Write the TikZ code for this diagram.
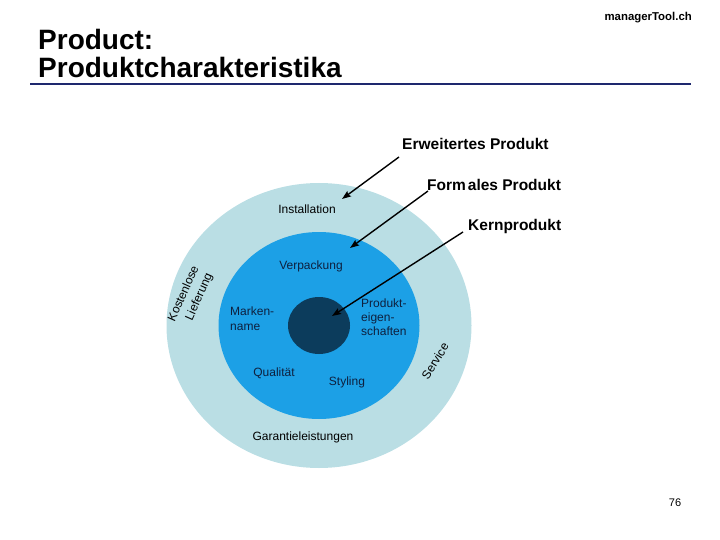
\documentclass[tikz,border=0pt]{standalone}
\usepackage{fontspec}
\setmainfont{Liberation Sans}
\usetikzlibrary{arrows.meta}
\definecolor{ringouter}{RGB}{186,222,228}
\definecolor{ringmid}{RGB}{28,160,230}
\definecolor{ringcore}{RGB}{12,60,92}
\definecolor{rulecol}{RGB}{30,40,110}
\definecolor{innertext}{RGB}{14,32,62}
\tikzset{
  lbl/.style={inner sep=0pt, font=\fontsize{15.5}{18}\selectfont\bfseries},
  small/.style={inner sep=0pt, font=\fontsize{12}{14.5}\selectfont},
  arr/.style={line width=1.4pt, -{Stealth[length=9pt,width=6.5pt,inset=1.5pt]}},
}
\begin{document}
\begin{tikzpicture}[x=1pt,y=-1pt]
\useasboundingbox (0,0) rectangle (720,540);
% header
\node[inner sep=0pt, anchor=east, font=\fontsize{11.4}{13}\selectfont\bfseries] (site) at (692,18) {managerTool.ch};
\node[inner sep=0pt, anchor=base west, font=\fontsize{28}{28}\selectfont\bfseries] (t1) at (38,50) {Product:};
\node[inner sep=0pt, anchor=base west, font=\fontsize{28}{28}\selectfont\bfseries] (t2) at (38,78) {Produktcharakteristika};
\draw[rulecol, line width=1.3pt] (30,84) -- (691,84);
% circles
\fill[ringouter] (319,325.5) ellipse [x radius=152.5pt, y radius=142.5pt];
\fill[ringmid] (319,325.5) ellipse [x radius=100.5pt, y radius=93.5pt];
\fill[ringcore] (319,325.5) ellipse [x radius=31pt, y radius=28.5pt];
% outer ring texts
\node[small] (inst) at (307,209) {Installation};
\node[small] (gar) at (303,437) {Garantieleistungen};
\node[small, align=left, rotate=66, font=\fontsize{12}{15.5}\selectfont] (kost) at (191,297) {Kostenlose\\\hspace*{8pt}Lieferung};
\node[small, rotate=58] (serv) at (435,361) {Service};
% middle ring texts
\node[small, text=innertext] (verp) at (311,266) {Verpackung};
\node[small, text=innertext, align=left, anchor=north west] (mark) at (230,307) {Marken-\\name};
\node[small, text=innertext, align=left, anchor=north west, font=\fontsize{12}{14}\selectfont] (prod) at (361,299) {Produkt-\\eigen-\\schaften};
\node[small, text=innertext] (qual) at (274,373) {Qualität};
\node[small, text=innertext] (styl) at (347,382) {Styling};
% callout labels
\node[lbl, anchor=west] (erw) at (402,144) {Erweitertes Produkt};
\node[lbl, anchor=west] (form) at (427,185) {Form\hspace{2pt}ales Produkt};
\node[lbl, anchor=west] (kern) at (468,226) {Kernprodukt};
\coordinate (erwS) at (399,157);
\coordinate (erwT) at (342,199);
\coordinate (formS) at (428,191);
\coordinate (formT) at (350,248);
\coordinate (kernS) at (463,232);
\coordinate (kernT) at (332,316);
\draw[arr] (erwS) -- (erwT);
\draw[arr] (formS) -- (formT);
\draw[arr] (kernS) -- (kernT);
% page number
\node[inner sep=0pt, font=\fontsize{11}{13}\selectfont] (page) at (675,503) {76};
\end{tikzpicture}
\end{document}
